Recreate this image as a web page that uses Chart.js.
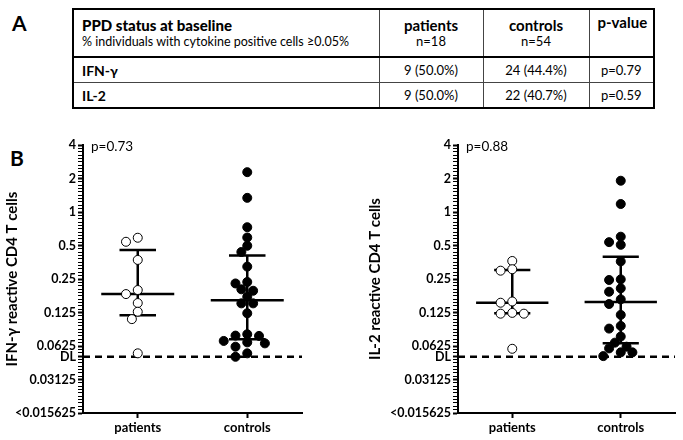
<!DOCTYPE html>
<html>
<head>
<meta charset="utf-8">
<script src="https://cdn.jsdelivr.net/npm/chart.js@4.4.0/dist/chart.umd.min.js"></script>
<style>
  body { margin: 0; background: #fff; font-family: Lato, "Open Sans", sans-serif; color: #000; }
  #page { position: relative; width: 683px; height: 440px; overflow: hidden; }
  .abs { position: absolute; }
  .panel { font-weight: bold; font-size: 21px; line-height: 1; }
  .pval { font-size: 13.5px; line-height: 1; }
  table { position: absolute; left: 72px; top: 8px; border-collapse: collapse; table-layout: fixed; width: 581px; font-size: 13px; }
  td { border: 1px solid #444; padding: 0 8px; height: 24px; text-align: center; white-space: nowrap; }
  tr.head td { height: 41px; border-bottom: 2px solid #000; vertical-align: middle; line-height: 15px; }
  tr.head td:first-child { text-align: left; }
  tr.head b { font-size: 15px; }
  tr.last td { border-bottom: 2px solid #000; }
  tr.head td { border-top: 2px solid #000; }
  td:first-child { border-left: 2px solid #000; text-align: left; font-weight: bold; font-size: 14px; }
  td:last-child { border-right: 2px solid #000; }
  .sub { font-weight: normal; font-size: 12.5px; }
</style>
</head>
<body>
<div id="page">
  <div class="abs panel" style="left:12px; top:12px;">A</div>
  <table>
    <colgroup><col style="width:306px"><col style="width:104px"><col style="width:106px"><col style="width:65px"></colgroup>
    <tr class="head">
      <td><b>PPD status at baseline</b><br><span class="sub">% individuals with cytokine positive cells ≥0.05%</span></td>
      <td><b>patients</b><br>n=18</td>
      <td><b>controls</b><br>n=54</td>
      <td style="vertical-align:top; padding-top:5px;"><b>p-value</b></td>
    </tr>
    <tr>
      <td>IFN-γ</td><td>9 (50.0%)</td><td>24 (44.4%)</td><td>p=0.79</td>
    </tr>
    <tr class="last">
      <td>IL-2</td><td>9 (50.0%)</td><td>22 (40.7%)</td><td>p=0.59</td>
    </tr>
  </table>
  <div class="abs panel" style="left:10px; top:147px;">B</div>
  <canvas id="ifng" class="abs" width="310" height="310" style="left:0; top:130px;"></canvas>
  <canvas id="il2" class="abs" width="320" height="310" style="left:363px; top:130px;"></canvas>
  <div class="abs pval" style="left:91px; top:140px;">p=0.73</div>
  <div class="abs pval" style="left:466px; top:140px;">p=0.88</div>
</div>
<script>
// values (fraction of CD4 T cells, log2 axis)
const groups = ['patients', 'controls'];
const yTickValues = [4, 2, 1, 0.5, 0.25, 0.125, 0.0625, 0.03125, 0.015625];
const yTickLabels = ['4', '2', '1', '0.5', '0.25', '0.125', '0.0625', '0.03125', '<0.015625'];
const detectionLimit = 0.05;

const ifngPatients = [0.587, 0.54, 0.371, 0.199, 0.183, 0.152, 0.127, 0.109, 0.0537];
const ifngControls = [2.28, 1.34, 0.73, 0.59, 0.497, 0.437, 0.323, 0.235, 0.228, 0.202, 0.196, 0.173,
                      0.151, 0.151, 0.123, 0.0797, 0.0775, 0.077, 0.0694, 0.0674, 0.066, 0.0616, 0.0537, 0.05];
const ifngMedian = [0.183, 0.161];
const ifngQ1 = [0.118, 0.072];
const ifngQ3 = [0.456, 0.406];

const il2Patients = [0.363, 0.306, 0.297, 0.157, 0.153, 0.124, 0.122, 0.122, 0.059];
const il2Controls = [1.91, 1.18, 0.60, 0.536, 0.507, 0.36, 0.248, 0.245, 0.206, 0.192, 0.164, 0.149,
                     0.119, 0.0947, 0.0896, 0.076, 0.067, 0.0616, 0.0595, 0.0548, 0.0548, 0.0507];
const il2Median = [0.153, 0.155];
const il2Q1 = [0.123, 0.066];
const il2Q3 = [0.301, 0.397];

const FONT = 'Lato, "Open Sans", sans-serif';
const PX_PER_DOUBLING = 33.5, PX_PER_UNIT = 108, STEP = 5.8, MIN_DIST = 8;

// simple beeswarm so points with similar values sit side by side
function swarm(values, center) {
  const placed = [], out = [];
  const order = values.map((v, i) => i).sort((a, b) => values[b] - values[a]);
  order.forEach(i => {
    const py = Math.log2(values[i]) * PX_PER_DOUBLING;
    for (let k = 0; k < 60; k++) {
      const off = (k % 2 ? -1 : 1) * Math.ceil(k / 2) * STEP;
      if (placed.every(p => Math.hypot(p.x - off, p.y - py) >= MIN_DIST)) {
        placed.push({ x: off, y: py });
        out[i] = { x: center + off / PX_PER_UNIT, y: Math.log2(values[i]) };
        break;
      }
    }
  });
  return out;
}

// median line + interquartile bar for one group, gaps split the pieces
function summary(c, med, q1, q3) {
  const l = Math.log2;
  return [
    { x: c - 1/3, y: l(med) }, { x: c + 1/3, y: l(med) }, { x: c, y: null },
    { x: c - 1/6, y: l(q3) }, { x: c + 1/6, y: l(q3) }, { x: c, y: null },
    { x: c - 1/6, y: l(q1) }, { x: c + 1/6, y: l(q1) }, { x: c, y: null },
    { x: c, y: l(q1) }, { x: c, y: l(q3) }
  ];
}

function makeChart(id, title, patients, controls, med, q1, q3, axisWidth) {
  const yTicks = [];
  for (let v = -6; v <= 2.001; v += 0.1) yTicks.push({ value: Math.round(v * 10) / 10, lab: '' });
  yTickValues.forEach((v, i) => {
    const t = yTicks.find(t => Math.abs(t.value - Math.log2(v)) < 1e-6);
    t.lab = yTickLabels[i];
  });
  yTicks.push({ value: Math.log2(detectionLimit), lab: 'DL' });

  new Chart(document.getElementById(id), {
    type: 'scatter',
    data: {
      datasets: [
        { data: swarm(patients, 1), pointRadius: 4.5, pointBackgroundColor: '#fff', pointBorderColor: '#000', pointBorderWidth: 1, order: 0 },
        { data: swarm(controls, 2), pointRadius: 4.5, pointBackgroundColor: '#000', pointBorderColor: '#000', pointBorderWidth: 1, order: 0 },
        { data: summary(1, med[0], q1[0], q3[0]), showLine: true, spanGaps: false, pointRadius: 0, borderColor: '#000', borderWidth: 2.5, order: 1 },
        { data: summary(2, med[1], q1[1], q3[1]), showLine: true, spanGaps: false, pointRadius: 0, borderColor: '#000', borderWidth: 2.5, order: 1 },
        { data: [{ x: 0.5, y: Math.log2(detectionLimit) }, { x: 2.5, y: Math.log2(detectionLimit) }],
          showLine: true, pointRadius: 0, borderColor: '#000', borderWidth: 2.5, borderDash: [7, 5], order: 2 }
      ]
    },
    options: {
      responsive: false,
      animation: false,
      devicePixelRatio: 1,
      layout: { padding: { top: 15, right: 8, left: 0, bottom: 0 } },
      plugins: { legend: { display: false }, tooltip: { enabled: false } },
      scales: {
        x: {
          type: 'linear', min: 0.5, max: 2.5,
          afterBuildTicks: s => { s.ticks = [{ value: 1 }, { value: 2 }]; },
          afterFit: s => { s.height = 27; },
          ticks: { callback: v => groups[v - 1], color: '#000', font: { family: FONT, weight: 'bold', size: 13 }, padding: 2 },
          grid: { drawOnChartArea: false, tickLength: 5, tickWidth: 2, color: '#000' },
          border: { color: '#000', width: 2 }
        },
        y: {
          type: 'linear', min: -6, max: 2,
          afterBuildTicks: s => { s.ticks = yTicks.map(t => ({ ...t })); },
          afterFit: s => { s.width = axisWidth; },
          ticks: {
            autoSkip: false, padding: 2, color: '#000',
            font: { family: FONT, weight: 'bold', size: 12.5 },
            callback: (v, i, ticks) => ticks[i].lab
          },
          grid: {
            drawOnChartArea: false, tickLength: 5, color: '#000',
            tickWidth: c => (c.tick && c.tick.lab ? 2 : 1)
          },
          border: { color: '#000', width: 2 },
          title: { display: true, text: title, color: '#000', font: { family: FONT, weight: 'bold', size: 15 }, padding: { top: 3, bottom: 0 } }
        }
      }
    }
  });
}

makeChart('ifng', 'IFN-γ reactive CD4 T cells', ifngPatients, ifngControls, ifngMedian, ifngQ1, ifngQ3, 83);
makeChart('il2', 'IL-2 reactive CD4 T cells', il2Patients, il2Controls, il2Median, il2Q1, il2Q3, 95);
</script>
</body>
</html>
